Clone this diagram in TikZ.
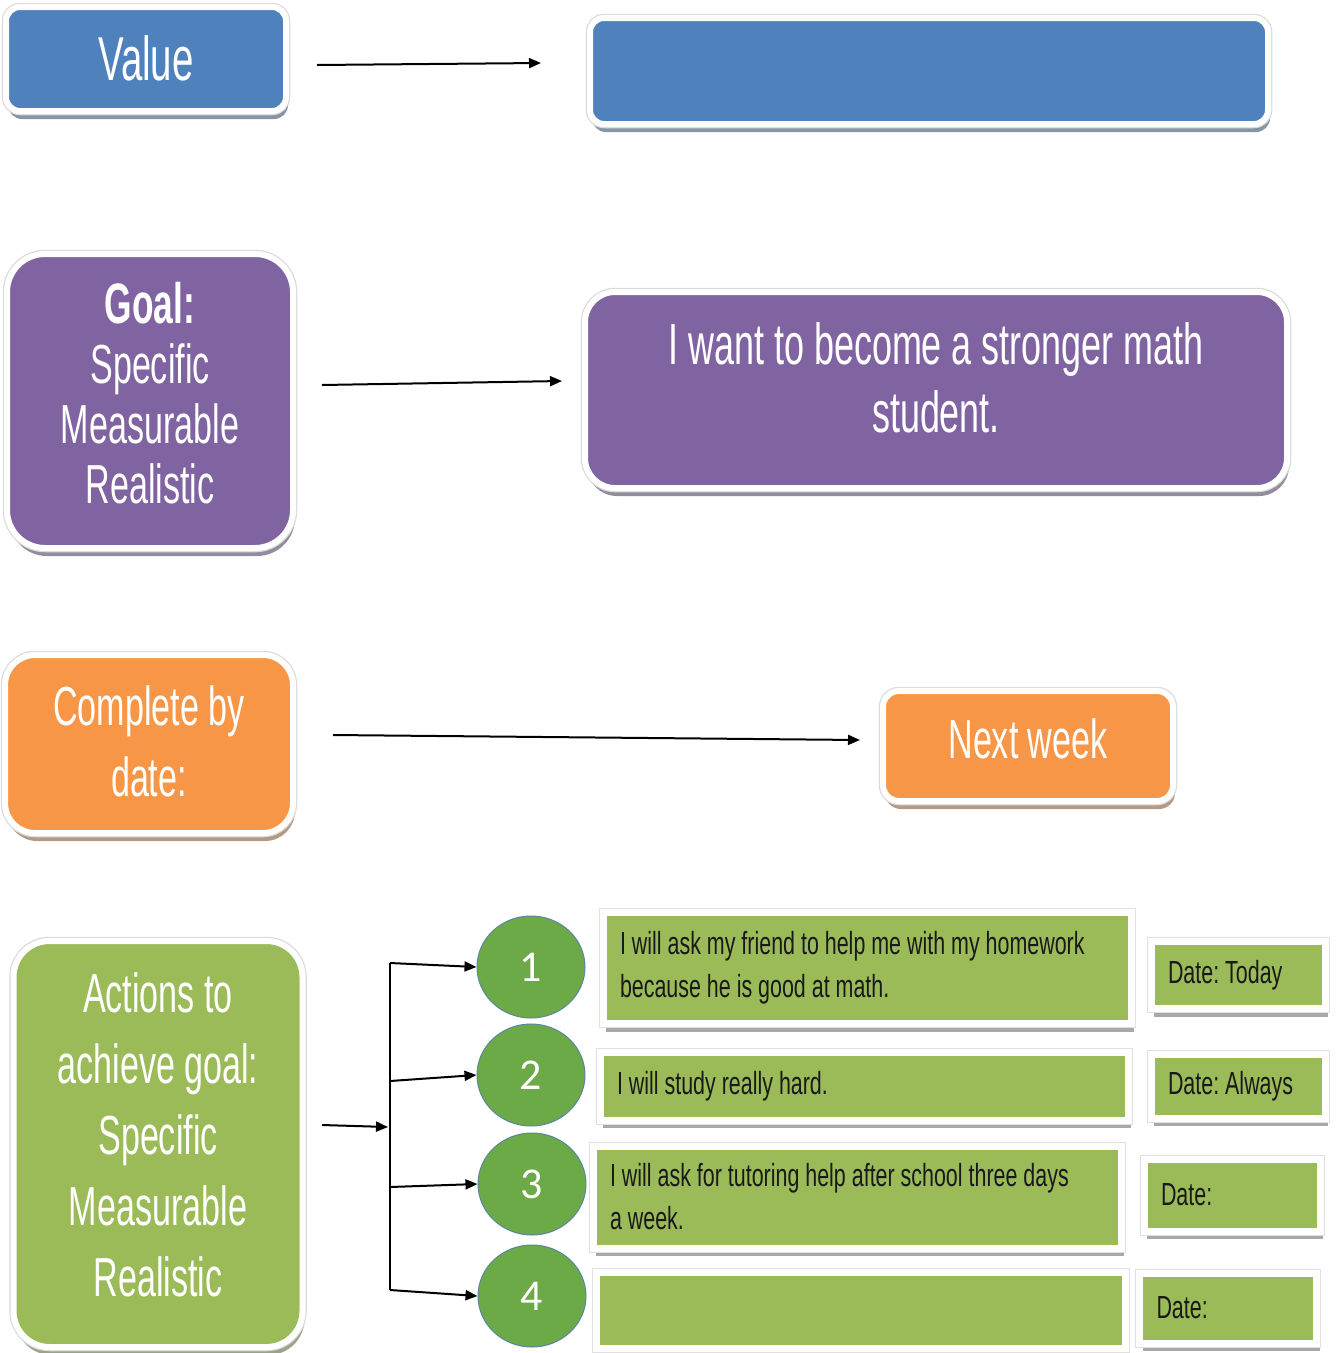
\documentclass[tikz,border=0pt]{standalone}
\usepackage{fontspec}
\setmainfont{Liberation Sans}
\newfontfamily\agency[FakeStretch=0.62]{Liberation Sans}
\newfontfamily\agencyw[FakeStretch=0.67]{Liberation Sans}
\newfontfamily\calib{Carlito}
\usetikzlibrary{shapes.geometric,arrows.meta,shadows}
\definecolor{cblue}{HTML}{4F81BD}
\definecolor{cpurple}{HTML}{8064A2}
\definecolor{corange}{HTML}{F79646}
\definecolor{cgreen}{HTML}{9BBB59}
\definecolor{ccirc}{HTML}{6BAA46}
\definecolor{ccircline}{HTML}{5A86A0}
\tikzset{
  box/.style={draw=white, line width=6pt, fill=#1, inner sep=0pt,
    drop shadow={shadow xshift=2pt, shadow yshift=-8pt, fill=#1!50!black!70, opacity=0.8},
    preaction={draw=black!14, line width=8.5pt}},
  lbl/.style={align=center, text=white, inner sep=0pt},
  tbox/.style={draw=white, line width=7pt, fill=cgreen, inner xsep=17pt, inner ysep=0pt,
    align=flush left, text=black!90, font=\agencyw\frenchspacing\fontsize{32}{43}\selectfont,
    drop shadow={shadow xshift=3pt, shadow yshift=-8pt, fill=gray!85, opacity=0.8},
    preaction={draw=black!12, line width=9pt}},
  circ/.style={ellipse, minimum width=108pt, minimum height=102pt, inner sep=0pt,
    fill=ccirc, draw=ccircline, line width=1pt, text=white,
    font=\calib\fontsize{44}{44}\selectfont},
  arr/.style={-{Triangle[length=12pt,width=10pt]}, line width=2pt, black},
  bus/.style={line width=2pt, black},
}
\begin{document}
\begin{tikzpicture}[x=1pt,y=-1pt]
\useasboundingbox[fill=white] (0,0) rectangle (1338,1353);

% Row 1: Value
\node[box=cblue, rounded corners=14pt, minimum width=280pt, minimum height=104pt] (value) at (146,59) {};
\node[lbl, font=\agency\fontsize{62}{62}\selectfont] (valuelbl) at (146,58) {Value};
\node[box=cblue, rounded corners=14pt, minimum width=678pt, minimum height=106pt] (valuebox) at (929,71) {};
\coordinate (v1) at (317,65);
\coordinate (v2) at (541,63);
\draw[arr] (v1) -- (v2);

% Row 2: Goal
\node[box=cpurple, rounded corners=38pt, minimum width=286pt, minimum height=294pt] (goal) at (150,401) {};
\node[lbl, font=\agency\fontsize{55}{60}\selectfont] (goallbl) at (150,393)
  {{\fontsize{57}{60}\selectfont\bfseries Goal:}\\Specific\\Measurable\\Realistic};
\node[box=cpurple, rounded corners=30pt, minimum width=702pt, minimum height=196pt] (goaltext) at (936,390) {};
\node[lbl, font=\agency\fontsize{58}{68}\selectfont] (goaltextlbl) at (936,378)
  {I want to become a stronger math\\student.};
\coordinate (g1) at (322,385);
\coordinate (g2) at (562,381);
\draw[arr] (g1) -- (g2);

% Row 3: Complete by date
\node[box=corange, rounded corners=30pt, minimum width=288pt, minimum height=178pt] (complete) at (149,744) {};
\node[lbl, font=\agency\fontsize{55}{71}\selectfont] (completelbl) at (149,741)
  {Complete by\\date:};
\node[box=corange, rounded corners=16pt, minimum width=290pt, minimum height=110pt] (nextweek) at (1028,746) {};
\node[lbl, font=\agency\fontsize{55}{55}\selectfont] (nextweeklbl) at (1028,739) {Next week};
\coordinate (n1) at (333,735);
\coordinate (n2) at (860,740);
\draw[arr] (n1) -- (n2);

% Row 4: Actions
\node[box=cgreen, rounded corners=36pt, minimum width=289pt, minimum height=406pt] (actions) at (158,1144) {};
\node[lbl, font=\agency\fontsize{55}{71}\selectfont] (actionslbl) at (158,1135)
  {Actions to\\achieve goal:\\Specific\\Measurable\\Realistic};

\node[circ] (c1) at (531,967) {1};
\node[circ] (c2) at (531,1075) {2};
\node[circ] (c3) at (532,1184) {3};
\node[circ] (c4) at (532,1296) {4};

\coordinate (ain) at (322,1125);
\coordinate (ajoin) at (388,1127);
\coordinate (btop) at (390,963);
\coordinate (b2) at (390,1081);
\coordinate (b3) at (390,1187);
\coordinate (bbot) at (390,1290);
\draw[arr] (ain) -- (ajoin);
\draw[bus] (btop) -- (bbot);
\draw[arr] (btop) -- (c1.west);
\draw[arr] (b2) -- (c2.west);
\draw[arr] (b3) -- (c3.west);
\draw[arr] (bbot) -- (c4.west);

% Action text boxes
\node[tbox, text width=494pt, minimum height=111pt] (t1) at (867,968)
  {I will ask my friend to help me with my homework\\because he is good at math.};
\node[tbox, text width=494pt, minimum height=68pt] (t2) at (864,1086)
  {I will study really hard.};
\node[tbox, text width=494pt, minimum height=102pt] (t3) at (857,1197)
  {I will ask for tutoring help after school three days\\a week.};
\node[tbox, text width=495pt, minimum height=76pt] (t4) at (861,1310) {};

% Date boxes
\node[tbox, text width=140pt, minimum height=67pt] (d1) at (1238,975) {Date: Today};
\node[tbox, text width=140pt, minimum height=64pt] (d2) at (1238,1086) {Date: Always};
\node[tbox, text width=142pt, minimum height=72pt] (d3) at (1232,1195) {Date:};
\node[tbox, text width=143pt, minimum height=70pt] (d4) at (1228,1308) {Date:};
\end{tikzpicture}
\end{document}
